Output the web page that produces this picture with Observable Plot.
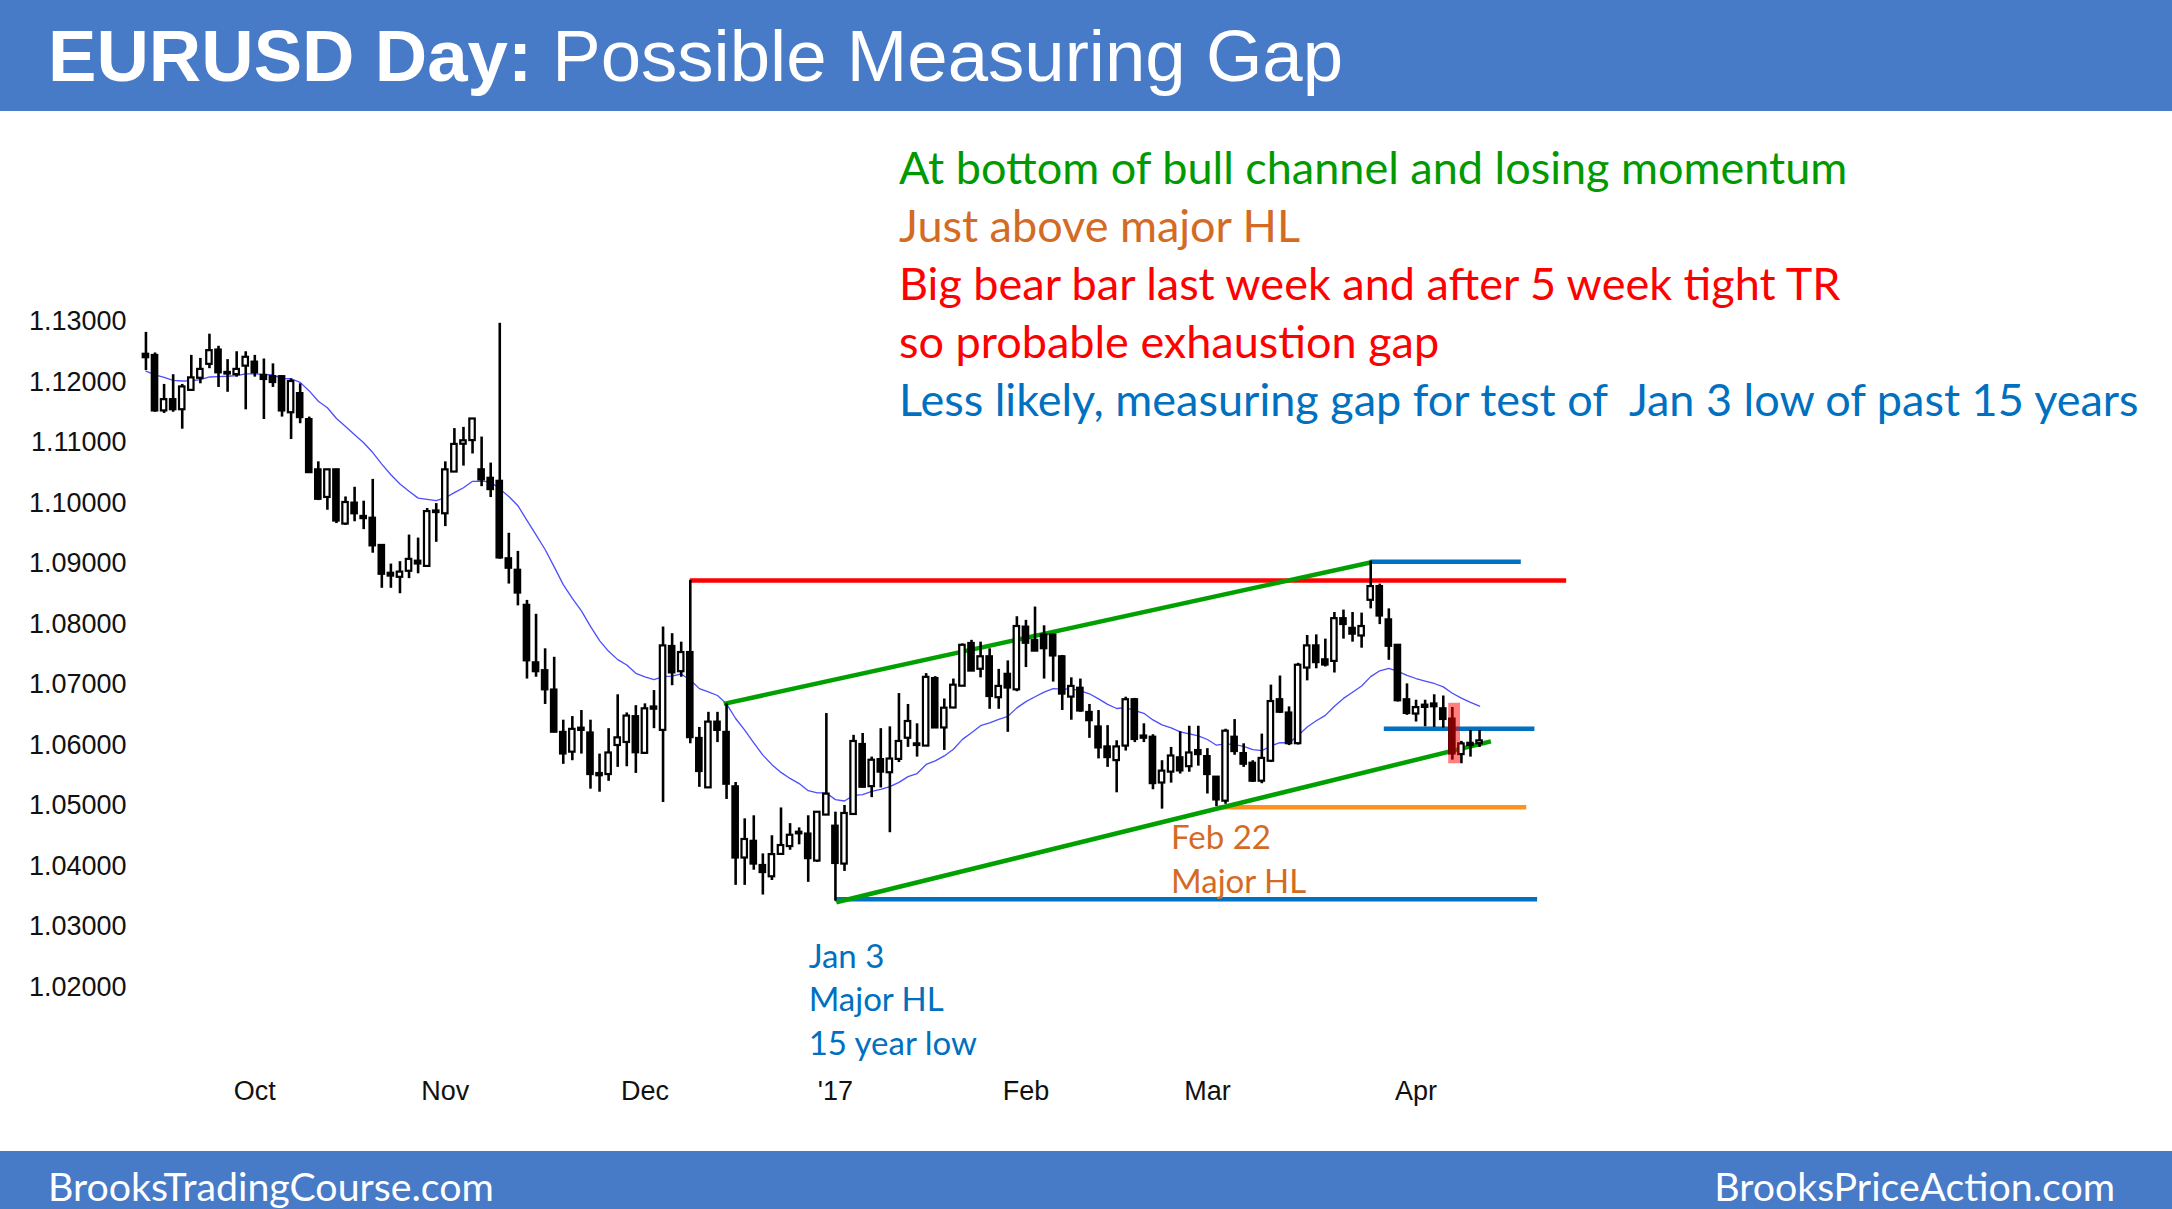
<!DOCTYPE html>
<html>
<head>
<meta charset="utf-8">
<script src="https://cdn.jsdelivr.net/npm/d3@7"></script>
<script src="https://cdn.jsdelivr.net/npm/@observablehq/plot@0.6"></script>
<style>
  html, body { margin: 0; padding: 0; background: #fff; }
  body { width: 2172px; height: 1209px; position: relative; overflow: hidden; }
  #header { position: absolute; left: 0; top: 0; width: 2172px; height: 111px; background: #477ac7; }
  #title { position: absolute; left: 48px; top: 0; font-family: "Liberation Sans", Arial, sans-serif; font-size: 72.6px; line-height: 111px; color: #fff; white-space: nowrap; }
  #title b { font-weight: bold; }
  #chart { position: absolute; left: 0; top: 111px; }
  #notes { position: absolute; left: 899px; top: 138px; font-family: Lato, sans-serif; font-size: 45px; line-height: 58px; white-space: pre; }
  #footer { position: absolute; left: 0; top: 1151px; width: 2172px; height: 58px; background: #477ac7; font-family: Lato, sans-serif; color: #fff; font-size: 39.3px; }
  #footer div { position: absolute; top: 6px; line-height: 58px; white-space: nowrap; }
</style>
</head>
<body>
<div id="header"><div id="title"><b>EURUSD Day:</b> Possible Measuring Gap</div></div>
<div id="notes"></div>
<div id="chart"></div>
<div id="footer"><div style="left:48px">BrooksTradingCourse.com</div><div style="right:57px">BrooksPriceAction.com</div></div>
<script>
// ---- daily bars (EURUSD) ----
const dates = [
"2016-09-15","2016-09-16","2016-09-19","2016-09-20","2016-09-21","2016-09-22","2016-09-23","2016-09-26","2016-09-27","2016-09-28","2016-09-29","2016-09-30",
"2016-10-03","2016-10-04","2016-10-05","2016-10-06","2016-10-07","2016-10-10","2016-10-11","2016-10-12","2016-10-13","2016-10-14","2016-10-17","2016-10-18","2016-10-19","2016-10-20","2016-10-21","2016-10-24","2016-10-25","2016-10-26","2016-10-27","2016-10-28","2016-10-31",
"2016-11-01","2016-11-02","2016-11-03","2016-11-04","2016-11-07","2016-11-08","2016-11-09","2016-11-10","2016-11-11","2016-11-14","2016-11-15","2016-11-16","2016-11-17","2016-11-18","2016-11-21","2016-11-22","2016-11-23","2016-11-24","2016-11-25","2016-11-28","2016-11-29","2016-11-30",
"2016-12-01","2016-12-02","2016-12-05","2016-12-06","2016-12-07","2016-12-08","2016-12-09","2016-12-12","2016-12-13","2016-12-14","2016-12-15","2016-12-16","2016-12-19","2016-12-20","2016-12-21","2016-12-22","2016-12-23","2016-12-27","2016-12-28","2016-12-29","2016-12-30",
"2017-01-03","2017-01-04","2017-01-05","2017-01-06","2017-01-09","2017-01-10","2017-01-11","2017-01-12","2017-01-13","2017-01-16","2017-01-17","2017-01-18","2017-01-19","2017-01-20","2017-01-23","2017-01-24","2017-01-25","2017-01-26","2017-01-27","2017-01-30","2017-01-31",
"2017-02-01","2017-02-02","2017-02-03","2017-02-06","2017-02-07","2017-02-08","2017-02-09","2017-02-10","2017-02-13","2017-02-14","2017-02-15","2017-02-16","2017-02-17","2017-02-20","2017-02-21","2017-02-22","2017-02-23","2017-02-24","2017-02-27","2017-02-28",
"2017-03-01","2017-03-02","2017-03-03","2017-03-06","2017-03-07","2017-03-08","2017-03-09","2017-03-10","2017-03-13","2017-03-14","2017-03-15","2017-03-16","2017-03-17","2017-03-20","2017-03-21","2017-03-22","2017-03-23","2017-03-24","2017-03-27","2017-03-28","2017-03-29","2017-03-30","2017-03-31",
"2017-04-03","2017-04-04","2017-04-05","2017-04-06","2017-04-07","2017-04-10","2017-04-11","2017-04-12"];
const open = [
1.1245,1.1243,1.1153,1.1170,1.1155,1.1187,1.1207,1.1230,1.1252,1.1215,1.1213,1.1227,
1.1232,1.1210,1.1208,1.1208,1.1150,1.1180,1.1137,1.1054,1.1010,1.1054,1.0966,1.0999,1.0977,1.0974,1.0929,1.0883,1.0878,1.0888,1.0903,1.0896,1.0985,
1.0983,1.1052,1.1098,1.1104,1.1054,1.1040,1.1035,1.0907,1.0888,1.0830,1.0735,1.0722,1.0690,1.0620,1.0589,1.0625,1.0619,1.0552,1.0552,1.0600,1.0605,1.0646,
1.0587,1.0660,1.0625,1.0762,1.0722,1.0752,1.0610,1.0530,1.0637,1.0620,1.0530,1.0414,1.0440,1.0400,1.0383,1.0420,1.0433,1.0454,1.0452,1.0409,1.0485,
1.0465,1.0404,1.0486,1.0600,1.0532,1.0575,1.0555,1.0577,1.0612,1.0600,1.0599,1.0709,1.0629,1.0662,1.0698,1.0767,1.0726,1.0745,1.0679,1.0716,1.0692,
1.0794,1.0772,1.0781,1.0781,1.0745,1.0680,1.0693,1.0653,1.0629,1.0596,1.0575,1.0599,1.0674,1.0614,1.0612,1.0538,1.0556,1.0578,1.0565,1.0590,
1.0580,1.0546,1.0508,1.0612,1.0585,1.0569,1.0541,1.0574,1.0674,1.0652,1.0603,1.0728,1.0763,1.0740,1.0739,1.0808,1.0792,1.0781,1.0840,1.0861,1.0806,1.0764,1.0674,
1.0652,1.0663,1.0667,1.0659,1.0642,1.0585,1.0600,1.0603];
const high = [
1.1282,1.1248,1.1196,1.1212,1.1196,1.1244,1.1239,1.1279,1.1259,1.1237,1.1250,1.1250,
1.1244,1.1238,1.1230,1.1210,1.1205,1.1197,1.1142,1.1068,1.1054,1.1056,1.1010,1.1026,1.1003,1.1039,1.0930,1.0899,1.0903,1.0947,1.0942,1.0991,1.0999,
1.1068,1.1123,1.1125,1.1138,1.1109,1.1066,1.1297,1.0950,1.0920,1.0839,1.0816,1.0759,1.0745,1.0641,1.0647,1.0657,1.0641,1.0585,1.0627,1.0683,1.0653,1.0665,
1.0668,1.0690,1.0795,1.0784,1.0770,1.0872,1.0629,1.0654,1.0654,1.0668,1.0538,1.0478,1.0483,1.0420,1.0450,1.0496,1.0470,1.0463,1.0483,1.0490,1.0652,
1.0489,1.0500,1.0616,1.0619,1.0580,1.0627,1.0630,1.0685,1.0667,1.0635,1.0718,1.0713,1.0676,1.0709,1.0767,1.0773,1.0770,1.0759,1.0725,1.0739,1.0812,
1.0806,1.0828,1.0797,1.0783,1.0748,1.0711,1.0709,1.0667,1.0657,1.0632,1.0607,1.0679,1.0677,1.0635,1.0617,1.0574,1.0596,1.0622,1.0631,1.0631,
1.0594,1.0546,1.0626,1.0642,1.0602,1.0574,1.0618,1.0699,1.0714,1.0663,1.0735,1.0781,1.0782,1.0775,1.0819,1.0823,1.0819,1.0818,1.0904,1.0866,1.0825,1.0764,1.0701,
1.0674,1.0674,1.0683,1.0681,1.0662,1.0606,1.0624,1.0624];
const low = [
1.1219,1.1150,1.1148,1.1150,1.1122,1.1185,1.1197,1.1222,1.1191,1.1183,1.1208,1.1154,
1.1208,1.1138,1.1191,1.1142,1.1105,1.1131,1.1049,1.1004,1.0988,1.0966,1.0963,1.0969,1.0956,1.0917,1.0859,1.0859,1.0850,1.0875,1.0883,1.0896,1.0935,
1.0961,1.1052,1.1061,1.1081,1.1027,1.1009,1.0907,1.0866,1.0830,1.0709,1.0712,1.0667,1.0620,1.0568,1.0574,1.0585,1.0527,1.0522,1.0540,1.0563,1.0564,1.0553,
1.0585,1.0627,1.0505,1.0698,1.0712,1.0602,1.0530,1.0530,1.0604,1.0510,1.0368,1.0368,1.0393,1.0352,1.0376,1.0420,1.0426,1.0435,1.0373,1.0406,1.0485,
1.0342,1.0391,1.0486,1.0529,1.0513,1.0529,1.0455,1.0571,1.0596,1.0580,1.0599,1.0629,1.0591,1.0660,1.0698,1.0723,1.0711,1.0659,1.0659,1.0621,1.0688,
1.0728,1.0756,1.0709,1.0704,1.0657,1.0641,1.0654,1.0611,1.0577,1.0563,1.0521,1.0590,1.0604,1.0604,1.0526,1.0494,1.0537,1.0552,1.0555,1.0565,
1.0519,1.0498,1.0502,1.0583,1.0563,1.0538,1.0536,1.0571,1.0652,1.0599,1.0600,1.0706,1.0726,1.0729,1.0719,1.0775,1.0770,1.0760,1.0825,1.0799,1.0740,1.0671,1.0649,
1.0638,1.0630,1.0629,1.0628,1.0575,1.0569,1.0580,1.0596];
const close = [
1.1241,1.1153,1.1170,1.1155,1.1191,1.1206,1.1220,1.1251,1.1216,1.1214,1.1220,1.1240,
1.1216,1.1205,1.1200,1.1153,1.1200,1.1142,1.1051,1.1007,1.1054,1.0971,1.1000,1.0983,1.0975,1.0930,1.0883,1.0880,1.0885,1.0906,1.0900,1.0985,1.0986,
1.1054,1.1096,1.1102,1.1138,1.1039,1.1023,1.0910,1.0893,1.0852,1.0740,1.0722,1.0692,1.0622,1.0586,1.0625,1.0627,1.0552,1.0550,1.0586,1.0611,1.0647,1.0588,
1.0659,1.0662,1.0763,1.0720,1.0752,1.0613,1.0557,1.0637,1.0625,1.0536,1.0414,1.0443,1.0404,1.0390,1.0418,1.0433,1.0450,1.0455,1.0413,1.0488,1.0518,
1.0405,1.0486,1.0605,1.0531,1.0574,1.0556,1.0576,1.0605,1.0638,1.0601,1.0711,1.0629,1.0660,1.0698,1.0764,1.0723,1.0745,1.0681,1.0696,1.0695,1.0795,
1.0769,1.0756,1.0760,1.0748,1.0685,1.0696,1.0657,1.0641,1.0596,1.0580,1.0596,1.0674,1.0610,1.0612,1.0537,1.0556,1.0581,1.0558,1.0586,1.0585,
1.0552,1.0510,1.0622,1.0590,1.0569,1.0541,1.0577,1.0671,1.0655,1.0603,1.0731,1.0763,1.0737,1.0733,1.0808,1.0800,1.0784,1.0795,1.0861,1.0814,1.0764,1.0674,1.0653,
1.0661,1.0665,1.0664,1.0643,1.0586,1.0601,1.0602,1.0606];

// 20-bar EMA, value of the average on the first bar
const emaPeriod = 20;
const maSeed = 1.1218;

// axes
const yTicks = [1.02, 1.03, 1.04, 1.05, 1.06, 1.07, 1.08, 1.09, 1.10, 1.11, 1.12, 1.13];
const monthStarts = ["2016-10-03", "2016-11-01", "2016-12-01", "2017-01-03", "2017-02-01", "2017-03-01", "2017-04-03"];
const monthLabels = ["Oct", "Nov", "Dec", "'17", "Feb", "Mar", "Apr"];

// horizontal levels (bar positions from/to, price)
const levelKind  = ["red", "blue", "blue", "blue", "orange"];
const levelFrom  = [60, 135, 136.5, 76, 118.3];
const levelTo    = [156.6, 151.6, 153.1, 153.4, 152.2];
const levelPrice = [1.0872, 1.0903, 1.0627, 1.0345, 1.0497];

// channel trend lines
const trendFromX = [63.7, 76.1];
const trendFromY = [1.0668, 1.0340];
const trendToX   = [135.1, 148.25];
const trendToY   = [1.0902, 1.0606];

// highlighted bar (last week's big bear bar)
const hlFromX = [143.6], hlToX = [144.9], hlLow = [1.0569], hlHigh = [1.0669];

// chart labels
const noteText  = ["Feb 22", "Major HL", "Jan 3", "Major HL", "15 year low"];
const noteKind  = ["orange", "orange", "blue", "blue", "blue"];
const noteX     = [113, 113, 73.05, 73.05, 73.05];
const notePrice = [1.0445, 1.0373, 1.0249, 1.0178, 1.0105];

// top-right commentary
const commentText = [
  "At bottom of bull channel and losing momentum",
  "Just above major HL",
  "Big bear bar last week and after 5 week tight TR",
  "so probable exhaustion gap",
  "Less likely, measuring gap for test of  Jan 3 low of past 15 years"];
const commentKind = ["green", "orange", "red", "red", "blue"];

// ---- styles ----
const colors = {red: "#ff0000", blue: "#0070c0", orange: "#ff911f", green: "#00a000"};
const textColors = {red: "#ff0000", blue: "#0070c0", orange: "#d46b25", green: "#009a00"};

const notes = document.getElementById("notes");
commentText.forEach((t, k) => {
  const div = document.createElement("div");
  div.textContent = t;
  div.style.color = textColors[commentKind[k]];
  notes.appendChild(div);
});

const bars = dates.map((d, i) => ({i, date: d, open: open[i], high: high[i], low: low[i], close: close[i]}));
const levels = levelKind.map((k, j) => ({kind: k, from: levelFrom[j], to: levelTo[j], price: levelPrice[j]}));
const trends = trendFromX.map((x, j) => ({x1: x, y1: trendFromY[j], x2: trendToX[j], y2: trendToY[j]}));
const hl = hlFromX.map((x, j) => ({x1: x, x2: hlToX[j], y1: hlLow[j], y2: hlHigh[j]}));
const labels = noteText.map((t, j) => ({text: t, kind: noteKind[j], x: noteX[j], y: notePrice[j]}));

const tickIdx = monthStarts.map(d => dates.indexOf(d));
const ema = (values) => {
  const a = 2 / (emaPeriod + 1);
  let e;
  return values.map((v, j) => (e = j === 0 ? maSeed : e + a * (v - e)));
};
const half = 0.3;

const chart = Plot.plot({
  width: 2172,
  height: 1040,
  marginLeft: 140,
  marginRight: 575,
  marginTop: 210,
  marginBottom: 73.75,
  x: {domain: [-0.6, 160], ticks: tickIdx, tickFormat: (v) => monthLabels[tickIdx.indexOf(v)], tickSize: 0, tickPadding: 3, label: null},
  y: {domain: [1.005, 1.13], ticks: yTicks, tickFormat: d3.format(".5f"), tickSize: 0, tickPadding: 14, label: null},
  color: {type: "identity"},
  style: {fontFamily: "'Liberation Sans', Arial, sans-serif", fontSize: "27px", color: "#111", background: "transparent", overflow: "visible"},
  marks: [
    Plot.lineY(bars, Plot.mapY(ema, {x: "i", y: "close", stroke: "#4d4dff", strokeWidth: 1.3})),
    Plot.ruleY(levels, {y: "price", x1: "from", x2: "to", stroke: d => colors[d.kind], strokeWidth: 4.5}),
    Plot.link(trends, {x1: "x1", y1: "y1", x2: "x2", y2: "y2", stroke: colors.green, strokeWidth: 4.5}),
    Plot.ruleX(bars, {x: "i", y1: "low", y2: "high", stroke: "#000", strokeWidth: 2.6}),
    Plot.rect(bars, {filter: d => d.close > d.open, x1: d => d.i - half, x2: d => d.i + half, y1: "open", y2: "close", fill: "#fff", stroke: "#000", strokeWidth: 2.2, insetTop: -0.5, insetBottom: -0.5}),
    Plot.rect(bars, {filter: d => d.close <= d.open, x1: d => d.i - half, x2: d => d.i + half, y1: "open", y2: "close", fill: "#000", stroke: "#000", strokeWidth: 2.2, insetTop: -0.5, insetBottom: -0.5}),
    Plot.rect(hl, {x1: "x1", x2: "x2", y1: "y1", y2: "y2", fill: "#ff0000", fillOpacity: 0.5}),
    Plot.text(labels, {x: "x", y: "y", text: "text", fill: d => textColors[d.kind], textAnchor: "start", fontFamily: "Lato, sans-serif", fontSize: 33})
  ]
});
document.getElementById("chart").appendChild(chart);
</script>
</body>
</html>
